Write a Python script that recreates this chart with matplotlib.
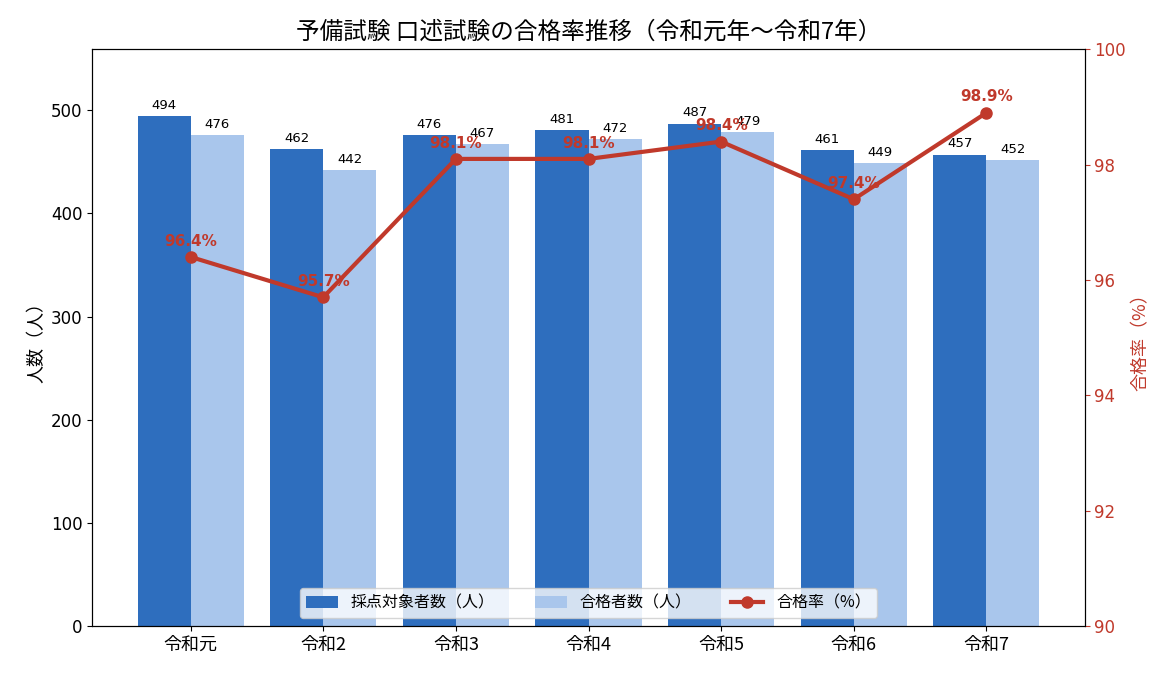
import matplotlib
matplotlib.use("Agg")
import matplotlib.pyplot as plt
import numpy as np

plt.rcParams['font.family'] = ['DejaVu Sans', 'Noto Sans CJK JP']
cjk = ['Noto Sans CJK JP', 'DejaVu Sans']

years = ["令和元", "令和2", "令和3", "令和4", "令和5", "令和6", "令和7"]
examinees = [494, 462, 476, 481, 487, 461, 457]
passers = [476, 442, 467, 472, 479, 449, 452]
pass_rate = [96.4, 95.7, 98.1, 98.1, 98.4, 97.4, 98.9]

dark_blue = "#2e6ebe"
light_blue = "#a9c6ec"
red = "#c0392b"

fig, ax1 = plt.subplots(figsize=(11.7, 6.76), dpi=100)
x = np.arange(len(years))
w = 0.4

b1 = ax1.bar(x - w / 2, examinees, w, color=dark_blue, label="採点対象者数（人）")
b2 = ax1.bar(x + w / 2, passers, w, color=light_blue, label="合格者数（人）")
for bars in (b1, b2):
    for rect in bars:
        ax1.annotate(f"{int(rect.get_height())}",
                     (rect.get_x() + rect.get_width() / 2, rect.get_height()),
                     xytext=(0, 3), textcoords="offset points",
                     ha="center", va="bottom", fontsize=9.5)

ax1.set_ylim(0, 559)
ax1.set_ylabel("人数（人）", fontsize=13, family=cjk)
ax1.set_xticks(x)
ax1.set_xticklabels(years, fontsize=13, family=cjk)
ax1.tick_params(axis="y", labelsize=12)

ax2 = ax1.twinx()
line, = ax2.plot(x, pass_rate, color=red, marker="o", linewidth=3,
                 markersize=8, label="合格率（%）")
for xi, r in zip(x, pass_rate):
    ax2.annotate(f"{r:.1f}%", (xi, r), xytext=(0, 6), textcoords="offset points",
                 ha="center", va="bottom", fontsize=11, fontweight="bold", color=red)
ax2.set_ylim(90, 100)
ax2.set_ylabel("合格率（%）", fontsize=13, color=red, family=cjk)
ax2.tick_params(axis="y", colors=red, labelsize=12)

handles = [b1, b2, line]
ax1.legend(handles, [h.get_label() for h in handles], loc="lower center",
           ncol=3, prop={'family': cjk, 'size': 11.5}, framealpha=0.8,
           columnspacing=2.5)

ax1.set_title("予備試験 口述試験の合格率推移（令和元年〜令和7年）",
              fontsize=17, family=cjk, pad=8)

plt.subplots_adjust(left=0.079, right=0.927, top=0.927, bottom=0.074)
fig.savefig("out.png", dpi=100)
